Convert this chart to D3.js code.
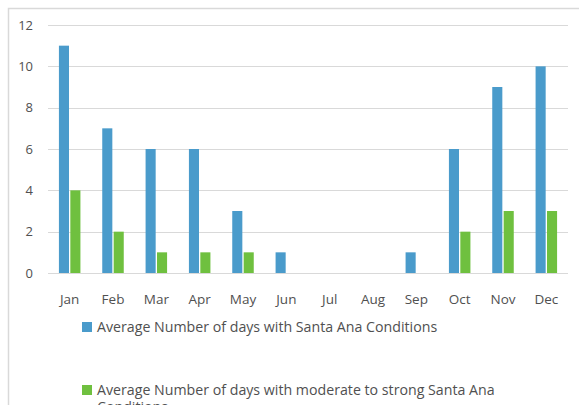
<!DOCTYPE html>
<html>
<head>
<meta charset="utf-8">
<script src="https://cdn.jsdelivr.net/npm/d3@7"></script>
<style>
  body { margin: 0; background: #fff; }
  #graph { width: 579px; height: 405px; }
  text { font-family: "Open Sans", Lato, sans-serif; fill: #505050; }
</style>
</head>
<body>
<div id="graph"></div>
<script>
const months = ["Jan", "Feb", "Mar", "Apr", "May", "Jun", "Jul", "Aug", "Sep", "Oct", "Nov", "Dec"];
const santaAna = [11, 7, 6, 6, 3, 1, 0, 0, 1, 6, 9, 10];
const strongSantaAna = [4, 2, 1, 1, 1, 0, 0, 0, 0, 2, 3, 3];
const seriesNames = [
    "Average Number of days with Santa Ana Conditions",
    "Average Number of days with moderate to strong Santa Ana Conditions"
];
const yTicks = [0, 2, 4, 6, 8, 10, 12];

const W = 579, H = 405;
const colors = ["#4a9bcb", "#6fc03f"];

function container() {
    return document.querySelector("#graph");
}

function main() {
    const svg = d3.select(container()).append("svg")
        .attr("width", W)
        .attr("height", H);

    // chart frame (top and left edges show)
    svg.append("path")
        .attr("d", `M8.5,${H}V8.5H${W}`)
        .attr("fill", "none")
        .attr("stroke", "#d9d9d9")
        .attr("stroke-width", 1.5);

    const x = d3.scaleBand().domain(months).range([48, 568]);
    const y = d3.scaleLinear().domain([0, 12]).range([273, 25]);

    // gridlines
    svg.append("g")
        .selectAll("line")
        .data(yTicks)
        .join("line")
        .attr("x1", 48)
        .attr("x2", 568)
        .attr("y1", d => Math.round(y(d)) + 0.5)
        .attr("y2", d => Math.round(y(d)) + 0.5)
        .attr("stroke", "#d9d9d9")
        .attr("stroke-width", 1.2);

    // y labels
    svg.append("g")
        .selectAll("text")
        .data(yTicks)
        .join("text")
        .attr("x", 33)
        .attr("y", d => y(d))
        .attr("dy", "0.35em")
        .attr("text-anchor", "end")
        .style("font-size", "13px")
        .text(d => d);

    const barW = 9.5, gap = 2.5;
    const x1 = d3.scaleBand().domain([0, 1]).range([0, 2 * barW + gap]).paddingInner(gap / (2 * barW + gap));
    const offset = (x.bandwidth() - (2 * barW + gap)) / 2;

    [santaAna, strongSantaAna].forEach((vals, s) => {
        svg.append("g")
            .selectAll("rect")
            .data(vals)
            .join("rect")
            .attr("x", (d, i) => x(months[i]) + offset + x1(s))
            .attr("y", d => y(d))
            .attr("width", x1.bandwidth())
            .attr("height", d => y(0) - y(d))
            .attr("fill", colors[s]);
    });

    // x labels
    svg.append("g")
        .selectAll("text")
        .data(months)
        .join("text")
        .attr("x", d => x(d) + x.bandwidth() / 2)
        .attr("y", 299)
        .attr("dy", "0.35em")
        .attr("text-anchor", "middle")
        .style("font-size", "13.5px")
        .text(d => d);

    // legend
    const legendY = [327, 390];
    const maxWidth = 440;
    seriesNames.forEach((name, s) => {
        const g = svg.append("g");
        g.append("rect")
            .attr("x", 82)
            .attr("y", legendY[s] - 5)
            .attr("width", 10)
            .attr("height", 10)
            .attr("fill", colors[s]);
        const t = g.append("text")
            .attr("x", 97)
            .attr("y", legendY[s])
            .attr("dy", "0.35em")
            .style("font-size", "14.2px");
        // simple word wrap
        const words = name.split(" ");
        let line = [];
        let tspan = t.append("tspan").attr("x", 97);
        words.forEach(w => {
            line.push(w);
            tspan.text(line.join(" "));
            if (tspan.node().getComputedTextLength() > maxWidth && line.length > 1) {
                line.pop();
                tspan.text(line.join(" "));
                line = [w];
                tspan = t.append("tspan").attr("x", 97).attr("dy", 17).text(w);
            }
        });
    });
}

main();
</script>
</body>
</html>
